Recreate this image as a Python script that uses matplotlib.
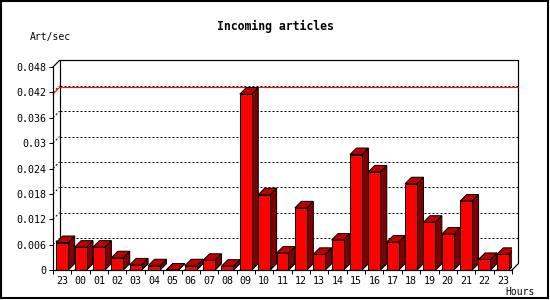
import matplotlib
matplotlib.use("Agg")
import matplotlib.pyplot as plt
from matplotlib.patches import Polygon, Rectangle

# hours and rate values
hours = ['23', '00', '01', '02', '03', '04', '05', '06', '07', '08', '09', '10',
         '11', '12', '13', '14', '15', '16', '17', '18', '19', '20', '21', '22', '23']
rates = [0.0065, 0.0054, 0.0054, 0.0029, 0.0012, 0.0010, 0.0, 0.0010, 0.0023, 0.0009,
         0.0416, 0.0178, 0.0040, 0.0147, 0.0037, 0.0071, 0.0273, 0.0232, 0.0066,
         0.0204, 0.0113, 0.0085, 0.0163, 0.0025, 0.0037]
yticks = [0, 0.006, 0.012, 0.018, 0.024, 0.03, 0.036, 0.042, 0.048]
ylabels = ['0', '0.006', '0.012', '0.018', '0.024', '0.03', '0.036', '0.042', '0.048']

plt.rcParams['font.family'] = 'DejaVu Sans Mono'
plt.rcParams['lines.scale_dashes'] = False

W, H = 550, 300
fig = plt.figure(figsize=(5.5, 3), dpi=100)
fig.patch.set_facecolor('white')

# front plane of the 3d box, in pixels
x0, x1, y0, y1 = 53, 512, 270, 67
ax = fig.add_axes([x0 / W, 1 - y0 / H, (x1 - x0) / W, (y0 - y1) / H])
n = len(rates)
ymax = 0.048
ax.set_xlim(-0.5, n - 0.5)
ax.set_ylim(0, ymax)
ax.set_facecolor('none')

# depth offset of 6.5 px converted to data units
dpx = 6.5
dx = dpx * n / (x1 - x0)
dy = dpx * ymax / (y0 - y1)
xl, xr = -0.5, n - 0.5
dots = (0, (1.44, 1.44))
px = 0.72

# back wall gridlines and side-wall diagonals
for v in yticks[1:-1]:
    ax.plot([xl + dx, xr + dx], [v + dy, v + dy], color='black', lw=px,
            ls=dots, clip_on=False, zorder=1)
    ax.plot([xl, xl + dx], [v, v + dy], color='black', lw=px, ls=dots,
            clip_on=False, zorder=1)
# back wall frame
ax.plot([xl, xl + dx, xr + dx, xr + dx, xr], [ymax, ymax + dy, ymax + dy, dy, 0],
        color='black', lw=px * 1.2, clip_on=False, zorder=2)
ax.plot([xl + dx, xl + dx], [dy, ymax + dy], color='black', lw=px * 1.2,
        clip_on=False, zorder=2)

# max value line
m = max(rates)
ax.plot([xl, xl + dx, xr + dx], [m, m + dy, m + dy], color='red', lw=px,
        clip_on=False, zorder=3)

# bars with 3d faces
w = 0.65
for i, v in enumerate(rates):
    a, b = i - w / 2, i + w / 2
    z = 10 + i * 4
    ax.add_patch(Polygon([(a, 0), (b, 0), (b + dx, dy), (a + dx, dy)], closed=True,
                         facecolor='#808080', edgecolor='black', lw=px, zorder=z))
    ax.add_patch(Polygon([(b, 0), (b + dx, dy), (b + dx, v + dy), (b, v)], closed=True,
                         facecolor='#800000', edgecolor='black', lw=px, zorder=z + 1))
    ax.add_patch(Polygon([(a, v), (b, v), (b + dx, v + dy), (a + dx, v + dy)], closed=True,
                         facecolor='#C00000', edgecolor='black', lw=px, zorder=z + 1))
    ax.bar(i, v, width=w, color='#FF0000', edgecolor='black', lw=px, zorder=z + 2)

for s in ['top', 'right']:
    ax.spines[s].set_visible(False)
for s in ['left', 'bottom']:
    ax.spines[s].set_linewidth(px * 1.2)
    ax.spines[s].set_zorder(200)

ax.set_xticks(range(n))
ax.set_xticklabels(hours)
ax.set_xticks([i - 0.5 for i in range(n + 1)], minor=True)
ax.tick_params(axis='x', which='major', length=0, pad=4.3, labelsize=7.2)
ax.tick_params(axis='x', which='minor', length=3, width=px, direction='out')
ax.set_yticks(yticks)
ax.set_yticklabels(ylabels)
ax.tick_params(axis='y', length=3, width=px, pad=1.5, labelsize=7.2)

fig.text(0.5, 1 - 26.5 / H, 'Incoming articles', ha='center', va='center',
         fontsize=8.3, fontweight='bold')
fig.text(30 / W, 1 - 37 / H, 'Art/sec', ha='left', va='center', fontsize=7)
fig.text(505 / W, 1 - 292 / H, 'Hours', ha='left', va='center', fontsize=7)

# outer frame
fig.patches.append(Rectangle((1 / W, 2 / H), 547 / W, 297 / H, transform=fig.transFigure,
                             fill=False, edgecolor='black', lw=1.5, figure=fig))

fig.savefig('out.png', dpi=100)
